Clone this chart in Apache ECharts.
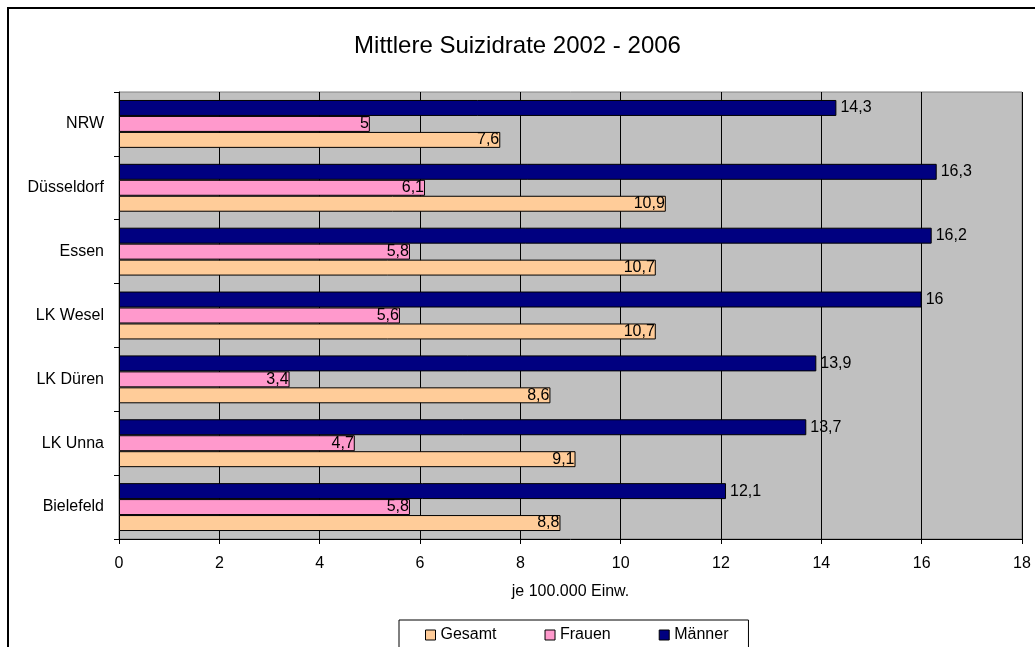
<!DOCTYPE html>
<html lang="de">
<head>
  <meta charset="UTF-8">
  <title>Mittlere Suizidrate 2002 - 2006</title>
  <style>
    html, body { margin: 0; padding: 0; background: #fff; }
    #chart { width: 1035px; height: 647px; }
  </style>
</head>
<body>
  <div id="chart"></div>
  <script src="https://cdn.jsdelivr.net/npm/echarts@6/dist/echarts.min.js"></script>
  <script>
    // Daten
    var regionen = ['NRW', 'Düsseldorf', 'Essen', 'LK Wesel', 'LK Düren', 'LK Unna', 'Bielefeld'];
    var maenner = [14.3, 16.3, 16.2, 16, 13.9, 13.7, 12.1];
    var frauen = [5, 6.1, 5.8, 5.6, 3.4, 4.7, 5.8];
    var gesamt = [7.6, 10.9, 10.7, 10.7, 8.6, 9.1, 8.8];
    var legendenNamen = ['Gesamt', 'Frauen', 'Männer'];

    var font = 'Liberation Sans, Arial, sans-serif';

    function komma(p) {
      return String(p.value).replace('.', ',');
    }

    function reihe(name, daten, farbe, pos) {
      return {
        name: name,
        type: 'bar',
        data: daten,
        barGap: '0%',
        barCategoryGap: '25%',
        itemStyle: { color: farbe, borderColor: '#000', borderWidth: 1 },
        label: {
          show: true,
          position: pos,
          distance: pos === 'right' ? 4 : 1,
          formatter: komma,
          color: '#000',
          fontFamily: font,
          fontSize: 16
        }
      };
    }

    var chart = echarts.init(document.getElementById('chart'));
    chart.setOption({
      animation: false,
      title: {
        text: 'Mittlere Suizidrate 2002 - 2006',
        left: 'center',
        top: 29,
        textStyle: { fontFamily: font, fontSize: 24, fontWeight: 'normal', color: '#000' }
      },
      graphic: [{
        type: 'rect',
        shape: { x: 8, y: 8, width: 1040, height: 660 },
        style: { fill: 'none', stroke: '#000', lineWidth: 2 },
        z: 100
      }],
      legend: {
        data: legendenNamen,
        left: 399,
        top: 620,
        padding: [7, 20, 12, 26],
        itemGap: 48,
        itemWidth: 10,
        itemHeight: 10,
        icon: 'rect',
        borderColor: '#000',
        borderWidth: 1,
        itemStyle: { borderColor: '#000', borderWidth: 1 },
        textStyle: { fontFamily: font, fontSize: 16, color: '#000' }
      },
      grid: {
        left: 119,
        right: 13,
        top: 92,
        bottom: 108,
        show: true,
        backgroundColor: '#c0c0c0',
        borderColor: '#808080',
        borderWidth: 1
      },
      xAxis: {
        type: 'value',
        min: 0,
        max: 18,
        interval: 2,
        name: 'je 100.000 Einw.',
        nameLocation: 'middle',
        nameGap: 45,
        nameTextStyle: { fontFamily: font, fontSize: 16, color: '#000' },
        axisLine: { show: true, lineStyle: { color: '#000', width: 1 } },
        axisTick: { show: true, length: 5, lineStyle: { color: '#000' } },
        axisLabel: { fontFamily: font, fontSize: 16, color: '#000', margin: 17 },
        splitLine: { show: true, lineStyle: { color: '#000', width: 1 } }
      },
      yAxis: {
        type: 'category',
        data: regionen,
        inverse: true,
        axisLine: { show: true, lineStyle: { color: '#000', width: 1 } },
        axisTick: { show: true, length: 5, lineStyle: { color: '#000' } },
        axisLabel: { fontFamily: font, fontSize: 16, color: '#000', margin: 15 },
        splitLine: { show: false }
      },
      series: [
        reihe('Männer', maenner, '#000080', 'right'),
        reihe('Frauen', frauen, '#ff99cc', 'insideRight'),
        reihe('Gesamt', gesamt, '#ffcc99', 'insideRight')
      ]
    });
  </script>
</body>
</html>
